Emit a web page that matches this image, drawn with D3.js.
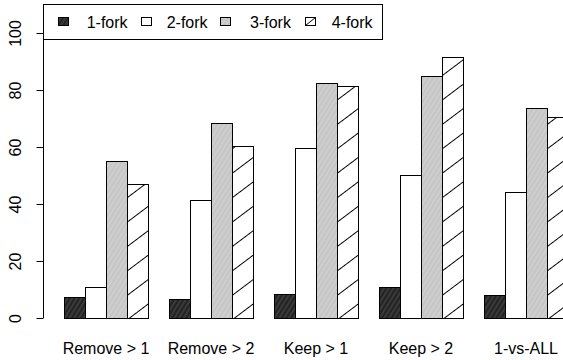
<!DOCTYPE html>
<html>
<head>
<meta charset="utf-8">
<script src="https://cdn.jsdelivr.net/npm/d3@7"></script>
<style>
  html, body { margin: 0; padding: 0; background: #fff; }
  svg { display: block; }
  text { font-family: "Liberation Sans", Arial, sans-serif; fill: #000; }
</style>
</head>
<body>
<svg id="chart" width="563" height="360"></svg>
<script>
const categories = ["Remove > 1", "Remove > 2", "Keep > 1", "Keep > 2", "1-vs-ALL"];
const seriesNames = ["1-fork", "2-fork", "3-fork", "4-fork"];
const fork1 = [7.5, 6.7, 8.3, 10.8, 8.1];
const fork2 = [10.9, 41.3, 59.6, 50.3, 44.2];
const fork3 = [55.1, 68.5, 82.5, 84.8, 73.8];
const fork4 = [47.0, 60.5, 81.3, 91.5, 70.4];
const yTicks = [0, 20, 40, 60, 80, 100];

const seriesValues = [fork1, fork2, fork3, fork4];
const fills = ["url(#pDark)", "#ffffff", "url(#pGray)", "url(#pHatch)"];

const svg = d3.select("#chart");
const W = 563, H = 360;

// patterns
const defs = svg.append("defs");
const pDark = defs.append("pattern").attr("id", "pDark")
  .attr("patternUnits", "userSpaceOnUse").attr("width", 4).attr("height", 4)
  .attr("patternTransform", "rotate(-58)");
pDark.append("rect").attr("width", 4).attr("height", 4).attr("fill", "#232323");
pDark.append("line").attr("x1", 0).attr("x2", 4).attr("y1", 1).attr("y2", 1)
  .attr("stroke", "#505050").attr("stroke-width", 1);

const pGray = defs.append("pattern").attr("id", "pGray")
  .attr("patternUnits", "userSpaceOnUse").attr("width", 4).attr("height", 4)
  .attr("patternTransform", "rotate(-58)");
pGray.append("rect").attr("width", 4).attr("height", 4).attr("fill", "#c6c6c6");
pGray.append("line").attr("x1", 0).attr("x2", 4).attr("y1", 1).attr("y2", 1)
  .attr("stroke", "#d6d6d6").attr("stroke-width", 1);

const pHatch = defs.append("pattern").attr("id", "pHatch")
  .attr("patternUnits", "userSpaceOnUse").attr("width", 19.5).attr("height", 19.5)
  .attr("patternTransform", "translate(0,318) rotate(-37)");
pHatch.append("rect").attr("width", 19.5).attr("height", 19.5).attr("fill", "#ffffff");
pHatch.append("line").attr("x1", 0).attr("x2", 19.5).attr("y1", 0.5).attr("y2", 0.5)
  .attr("stroke", "#000").attr("stroke-width", 1);

// scales
const x0 = d3.scaleBand().domain(categories).range([43, 568])
  .paddingInner(0.2).paddingOuter(0.1).align(1);
const x1 = d3.scaleBand().domain(seriesNames).range([0, x0.bandwidth()]).padding(0);
const y = d3.scaleLinear().domain([0, 100]).range([318, 33]);

// bars
const groups = svg.append("g").selectAll("g").data(categories).join("g")
  .attr("transform", d => `translate(${x0(d)},0)`);
groups.selectAll("rect")
  .data((c, ci) => seriesNames.map((s, si) => ({ s, si, v: seriesValues[si][ci] })))
  .join("rect")
  .attr("x", d => x1(d.s) + 0.5)
  .attr("y", d => Math.round(y(d.v)) + 0.5)
  .attr("width", x1.bandwidth())
  .attr("height", d => y(0) - Math.round(y(d.v)))
  .attr("fill", d => fills[d.si])
  .attr("stroke", "#000")
  .attr("stroke-width", 1);

// y axis
const yAxis = d3.axisLeft(y).tickValues(yTicks).tickSize(7).tickPadding(0).tickFormat(d3.format("d"));
const ya = svg.append("g").attr("transform", "translate(43.5,0)").call(yAxis);
ya.select(".domain").attr("stroke", "#000").attr("d", `M0,${y(0)}V${y(100)}`);
ya.selectAll(".tick line").attr("stroke", "#000");
ya.selectAll(".tick text").remove();
ya.selectAll(".tick").append("text")
  .attr("transform", "translate(-22.5,0) rotate(-90)")
  .attr("text-anchor", "middle")
  .attr("font-size", 16)
  .attr("fill", "#000")
  .text(d => d3.format("d")(d));

// x labels
svg.append("g").selectAll("text").data(categories).join("text")
  .attr("x", d => x0(d) + x0.bandwidth() / 2)
  .attr("y", 354)
  .attr("text-anchor", "middle")
  .attr("font-size", 16)
  .text(d => d);

// legend
const lg = svg.append("g");
lg.append("rect").attr("x", 43.5).attr("y", 4.5).attr("width", 339).attr("height", 35)
  .attr("fill", "#fff").attr("stroke", "#000");
const swX = [58.5, 141.5, 220.5, 305.5];
const txX = [86.7, 166.7, 250, 331.7];
seriesNames.forEach((s, i) => {
  lg.append("rect").attr("x", swX[i]).attr("y", 17.5).attr("width", 10).attr("height", 8)
    .attr("fill", i === 3 ? "#fff" : fills[i]).attr("stroke", "#000");
  if (i === 3) {
    lg.append("line").attr("x1", swX[i]).attr("y1", 25.5).attr("x2", swX[i] + 10).attr("y2", 17.5)
      .attr("stroke", "#000");
  }
  lg.append("text").attr("x", txX[i]).attr("y", 27.5).attr("font-size", 16).text(s);
});
</script>
</body>
</html>
